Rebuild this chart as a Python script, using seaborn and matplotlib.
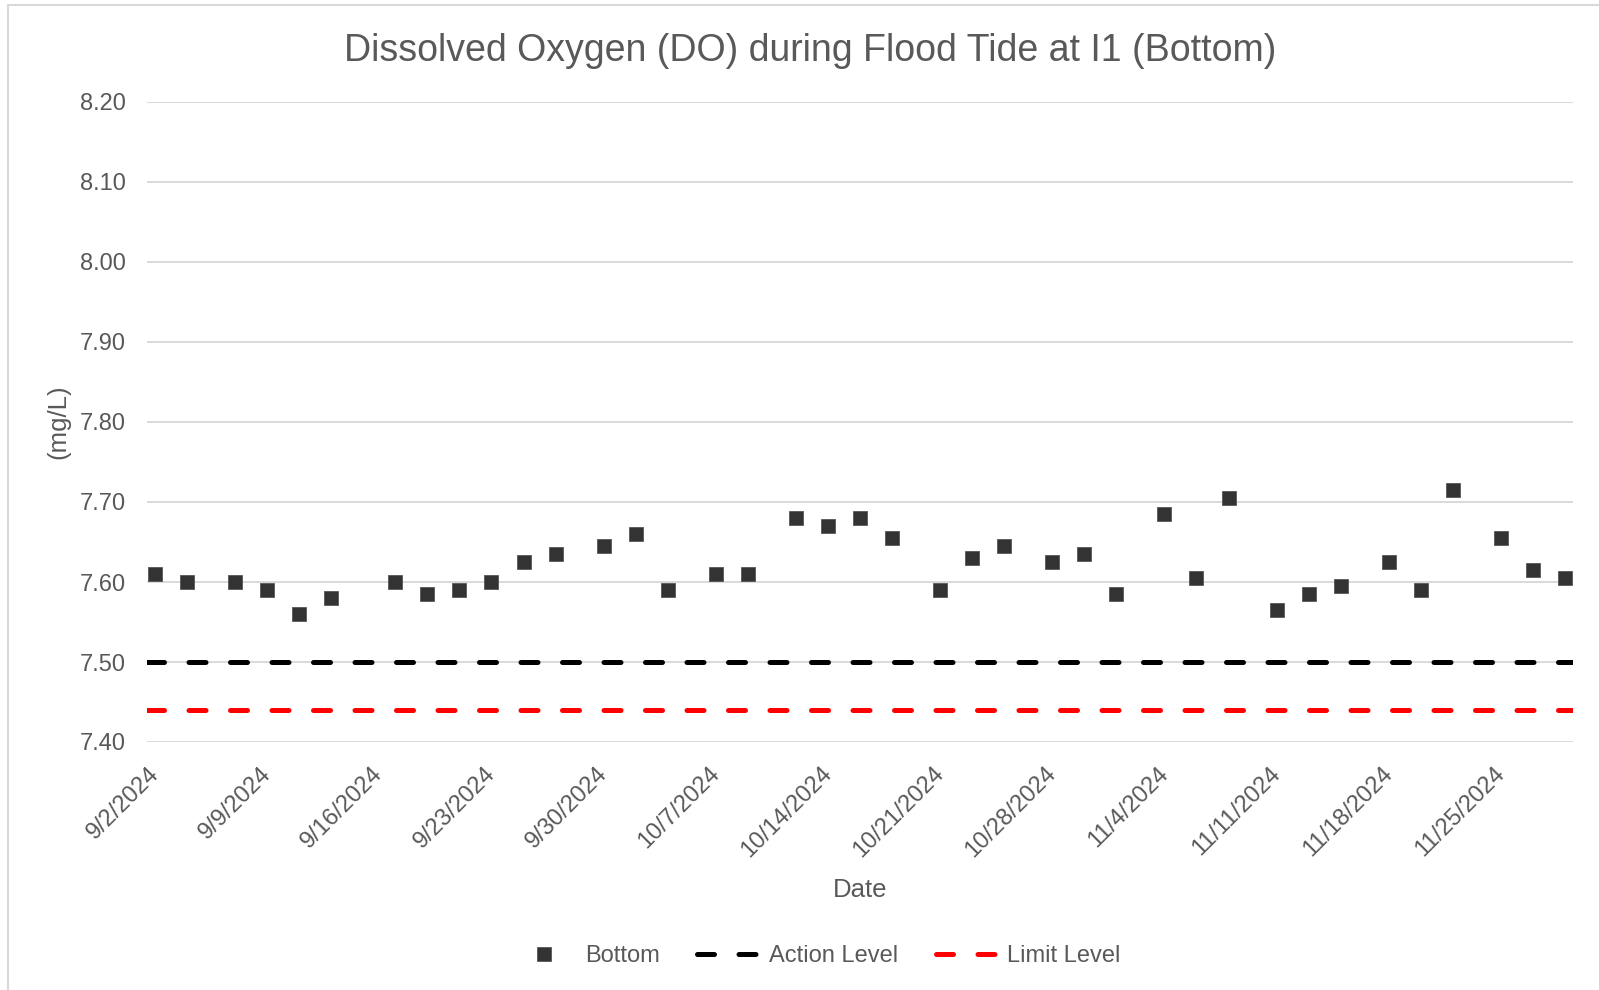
import numpy as np
import pandas as pd
import matplotlib
matplotlib.use("Agg")
import matplotlib.pyplot as plt
import matplotlib.transforms as mtransforms
from matplotlib.lines import Line2D
import seaborn as sns

# ---------------- data ----------------
dates = ["2024-09-02", "2024-09-04", "2024-09-07", "2024-09-09", "2024-09-11", "2024-09-13",
         "2024-09-17", "2024-09-19", "2024-09-21", "2024-09-23", "2024-09-25", "2024-09-27",
         "2024-09-30", "2024-10-02", "2024-10-04", "2024-10-07", "2024-10-09", "2024-10-12",
         "2024-10-14", "2024-10-16", "2024-10-18", "2024-10-21", "2024-10-23", "2024-10-25",
         "2024-10-28", "2024-10-30", "2024-11-01", "2024-11-04", "2024-11-06", "2024-11-08",
         "2024-11-11", "2024-11-13", "2024-11-15", "2024-11-18", "2024-11-20", "2024-11-22",
         "2024-11-25", "2024-11-27", "2024-11-29"]
bottom_do = [7.61, 7.60, 7.60, 7.59, 7.56, 7.58,
             7.60, 7.585, 7.59, 7.60, 7.625, 7.635,
             7.645, 7.66, 7.59, 7.61, 7.61, 7.68,
             7.67, 7.68, 7.655, 7.59, 7.63, 7.645,
             7.625, 7.635, 7.585, 7.685, 7.605, 7.705,
             7.565, 7.585, 7.595, 7.625, 7.59, 7.715,
             7.655, 7.615, 7.605]
action_level = 7.50
limit_level = 7.44
x_tick_labels = ["9/2/2024", "9/9/2024", "9/16/2024", "9/23/2024", "9/30/2024", "10/7/2024",
                 "10/14/2024", "10/21/2024", "10/28/2024", "11/4/2024", "11/11/2024",
                 "11/18/2024", "11/25/2024"]
y_ticks = [7.40, 7.50, 7.60, 7.70, 7.80, 7.90, 8.00, 8.10, 8.20]

title = "Dissolved Oxygen (DO) during Flood Tide at I1 (Bottom)"
x_label = "Date"
y_label = "(mg/L)"
series_names = ["Bottom", "Action Level", "Limit Level"]

df = pd.DataFrame({"Date": pd.to_datetime(dates), "DO": bottom_do})

# ---------------- style ----------------
sns.set_theme(style="white")
plt.rcParams["font.family"] = ["Liberation Sans", "DejaVu Sans"]
TEXT = "#595959"
GRID = "#d9d9d9"

W, H = 1599, 990
fig = plt.figure(figsize=(W / 100, H / 100), dpi=100)
fig.patch.set_facecolor("white")

ax_l, ax_r, ax_t, ax_b = 147, 1573, 102, 742
ax = fig.add_axes([ax_l / W, (H - ax_b) / H, (ax_r - ax_l) / W, (ax_b - ax_t) / H])

# chart border (top and left visible)
fig.add_artist(Line2D([8 / W, 1.0], [1 - 5 / H, 1 - 5 / H], color=GRID, lw=1.5, transform=fig.transFigure))
fig.add_artist(Line2D([8 / W, 8 / W], [1 - 5 / H, 0.0], color=GRID, lw=1.5, transform=fig.transFigure))

# gridlines
ax.set_ylim(min(y_ticks), max(y_ticks))
ax.set_yticks(y_ticks)
ax.yaxis.grid(True, color=GRID, lw=1.4)
ax.xaxis.grid(False)
ax.set_axisbelow(True)
for s in ax.spines.values():
    s.set_visible(False)

lw = 3.6
dash = (3.4, 4.9)
ax.axhline(action_level, color="black", lw=lw, dashes=dash, dash_capstyle="round", zorder=2)
ax.axhline(limit_level, color="#ff0000", lw=lw, dashes=dash, dash_capstyle="round", zorder=2)

sns.scatterplot(data=df, x="Date", y="DO", marker="s", s=112, color="#333333",
                edgecolor="#4a4a4a", linewidth=0.5, ax=ax, zorder=3, legend=False)

day = pd.Timedelta(days=0.5)
ax.set_xlim(df["Date"].min() - day, df["Date"].max() + day)
tick_dates = pd.to_datetime(x_tick_labels, format="%m/%d/%Y")
ax.set_xticks(tick_dates)
ax.set_xticklabels(x_tick_labels, rotation=45, ha="right", va="top", fontsize=17, color=TEXT)
ax.set_yticklabels([f"{v:.2f}" for v in y_ticks], fontsize=17, color=TEXT)
ax.tick_params(axis="both", length=0)
ax.tick_params(axis="x", pad=15)
ax.tick_params(axis="y", pad=15)
shift = mtransforms.ScaledTranslation(8 / 100, 0, fig.dpi_scale_trans)
for lab in ax.get_xticklabels():
    lab.set_transform(lab.get_transform() + shift)

ax.set_xlabel(x_label, fontsize=18.5, color=TEXT, va="center")
ax.xaxis.set_label_coords((860 - ax_l) / (ax_r - ax_l), (ax_b - 890) / (ax_b - ax_t))
ax.set_ylabel(y_label, fontsize=18.5, color=TEXT, va="center")
ax.yaxis.set_label_coords((58 - ax_l) / (ax_r - ax_l), 0.5)

fig.text(810 / W, 1 - 51 / H, title, fontsize=27, color=TEXT, ha="center", va="center")

handles = [
    Line2D([], [], marker="s", linestyle="none", markersize=10.5, color="#333333",
           markeredgecolor="#4a4a4a", markeredgewidth=0.5),
    Line2D([], [], color="black", lw=lw, dashes=dash, dash_capstyle="round"),
    Line2D([], [], color="#ff0000", lw=lw, dashes=dash, dash_capstyle="round"),
]
leg = fig.legend(handles, series_names, loc="center", bbox_to_anchor=(817 / W, 1 - 956 / H),
                 ncol=3, frameon=False, fontsize=17, handlelength=2.6, handletextpad=0.43,
                 columnspacing=1.6)
for t in leg.get_texts():
    t.set_color(TEXT)

fig.savefig("out.png", dpi=100, facecolor="white")
